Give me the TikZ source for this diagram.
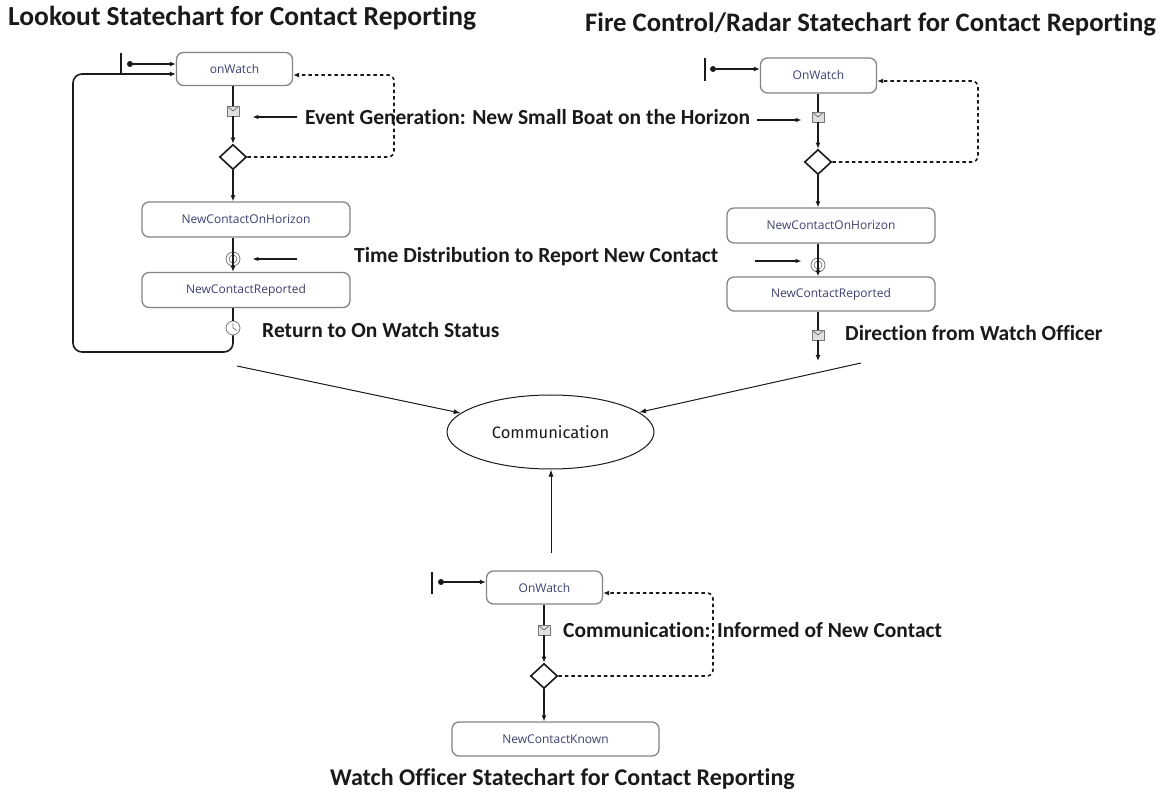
\documentclass[tikz,border=0pt]{standalone}
\usepackage{fontspec}
\setmainfont{Carlito}[Ligatures=NoCommon]
\newfontfamily\boxfont{Open Sans}
\newfontfamily\ellfont{Fira Sans}
\usetikzlibrary{arrows.meta,shapes.geometric,calc}

\definecolor{ink}{HTML}{1A1A1A}
\definecolor{boxline}{HTML}{858585}
\definecolor{boxtext}{HTML}{3C4070}
\definecolor{icon}{HTML}{777777}

\tikzset{
  state/.style={draw=boxline, line width=1.3pt, rounded corners=7pt, fill=white,
    font=\boxfont\fontsize{12}{14}\selectfont, text=boxtext, inner sep=0pt},
  small/.style={state, minimum width=116pt, minimum height=33pt},
  wide/.style={state, minimum width=208pt, minimum height=35pt},
  choice/.style={diamond, draw=ink, line width=1.6pt, fill=white, inner sep=0pt,
    minimum width=27pt, minimum height=25pt},
  mailicon/.style={rectangle, draw=icon, fill=gray!25, line width=0.7pt,
    minimum width=12pt, minimum height=10pt, inner sep=0pt,
    path picture={\draw[icon!80!black, line width=0.6pt]
      (path picture bounding box.north west) -- (path picture bounding box.center)
      -- (path picture bounding box.north east);}},
  timer/.style={circle, draw=icon, line width=0.8pt, minimum size=14pt, inner sep=0pt,
    path picture={\draw[icon, line width=0.7pt] (path picture bounding box.center) circle (4pt);}},
  clock/.style={circle, draw=icon, fill=white, line width=0.8pt, minimum size=14pt, inner sep=0pt,
    path picture={\draw[icon, line width=0.7pt]
      (path picture bounding box.center) -- ++(0pt,5pt)
      (path picture bounding box.center) -- ++(4pt,-2.5pt);}},
  conn/.style={draw=ink, line width=1.6pt, -{Latex[length=6pt,width=5pt]}},
  plain/.style={draw=ink, line width=1.6pt},
  loopback/.style={draw=ink, line width=1.6pt, dash pattern=on 3.5pt off 3pt,
    -{Latex[length=6pt,width=5pt]}},
  pointer/.style={draw=ink, line width=1.2pt, -{Latex[length=6pt,width=4.5pt]}},
  flow/.style={draw=ink, line width=1pt, -{Latex[length=7pt,width=5pt]}},
  initdot/.style={circle, fill=ink, minimum size=6pt, inner sep=0pt},
  note/.style={font=\bfseries\fontsize{21.5}{24}\selectfont, text=ink, anchor=west, inner sep=0pt},
  title/.style={font=\bfseries\fontsize{27.5}{30}\selectfont, text=ink, anchor=west, inner sep=0pt},
}

\begin{document}
\begin{tikzpicture}[x=1pt, y=-1pt]
\useasboundingbox (0,0) rectangle (1162,799);
\fill[white] (0,0) rectangle (1162,799);

% ---------- titles ----------
\node[title] (tLook) at (8,18) {Lookout Statechart for Contact Reporting};
\node[title, font=\bfseries\fontsize{26.7}{30}\selectfont] (tFire) at (585,24) {Fire Control/Radar Statechart for Contact Reporting};
\node[title, font=\bfseries\fontsize{24}{28}\selectfont] (tWatch) at (330,779) {Watch Officer Statechart for Contact Reporting};

% ---------- lookout ----------
\node[small] (owL) at (234.5,69) {onWatch};
\node[mailicon] (mailL) at (233,111) {};
\node[choice] (diaL) at (233,157) {};
\node[wide] (ncohL) at (246,219.5) {NewContactOnHorizon};
\node[wide] (ncrL) at (246,290) {NewContactReported};
\node[initdot] (dotL) at (130,64) {};
\node[timer] (timerL) at (233,259) {};
\node[clock] (clockL) at (233,328) {};
\coordinate (barLt) at (121,53);
\coordinate (barLb) at (121,75);
\coordinate (loopBR) at (233,352);
\coordinate (loopBL) at (73,352);
\coordinate (loopTL) at (73,74);
\coordinate (dashL) at (394,157);
\coordinate (dashLt) at (394,75);

\draw[line width=1.6pt, ink] (barLt) -- (barLb);
\draw[conn] (dotL) -- ([yshift=5pt]owL.west);
\draw[plain] (owL.south -| mailL) -- (mailL);
\draw[conn] (mailL) -- (diaL);
\draw[conn] (diaL) -- (diaL |- ncohL.north);
\draw[conn] (diaL |- ncohL.south) -- (diaL |- ncrL.north);
\draw[plain] (diaL |- ncrL.south) -- (clockL);
\draw[conn, rounded corners=9pt] (clockL.south) -- (loopBR) -- (loopBL)
  -- (loopTL) -- ([yshift=-5pt]owL.west);
\draw[loopback, rounded corners=6pt] (diaL.east) -- (dashL) -- (dashLt)
  -- ([yshift=-6pt]owL.east);

% ---------- fire control / radar ----------
\node[small, minimum height=35pt] (owF) at (818.5,75.5) {OnWatch};
\node[mailicon] (mailF) at (818,117) {};
\node[choice] (diaF) at (818,162) {};
\node[wide] (ncohF) at (831,225.5) {NewContactOnHorizon};
\node[wide, minimum height=34pt] (ncrF) at (831,294) {NewContactReported};
\node[initdot] (dotF) at (713,69) {};
\node[timer] (timerF) at (818,265) {};
\node[mailicon] (mail2F) at (818,335) {};
\coordinate (barFt) at (705,58);
\coordinate (barFb) at (705,81);
\coordinate (dashF) at (978,162);
\coordinate (dashFt) at (978,81);
\coordinate (outF) at (818,361);

\draw[line width=1.6pt, ink] (barFt) -- (barFb);
\draw[conn] (dotF) -- ([yshift=6.5pt]owF.west);
\draw[plain] (owF.south -| mailF) -- (mailF);
\draw[conn] (mailF) -- (diaF);
\draw[conn] (diaF) -- (diaF |- ncohF.north);
\draw[conn] (diaF |- ncohF.south) -- (diaF |- ncrF.north);
\draw[plain] (diaF |- ncrF.south) -- (mail2F);
\draw[conn] (mail2F) -- (outF);
\draw[loopback, rounded corners=6pt] (diaF.east) -- (dashF) -- (dashFt)
  -- ([yshift=-5.5pt]owF.east);

% ---------- watch officer ----------
\node[small] (owW) at (544.5,587.5) {OnWatch};
\node[mailicon] (mailW) at (544,630) {};
\node[choice] (diaW) at (544,676) {};
\node[wide, minimum width=207pt, minimum height=34pt] (nckW) at (555.5,739) {NewContactKnown};
\node[initdot] (dotW) at (441,582) {};
\coordinate (barWt) at (432,572);
\coordinate (barWb) at (432,594);
\coordinate (dashW) at (713,676);
\coordinate (dashWt) at (713,593);

\draw[line width=1.6pt, ink] (barWt) -- (barWb);
\draw[conn] (dotW) -- ([yshift=5.5pt]owW.west);
\draw[plain] (owW.south -| mailW) -- (mailW);
\draw[conn] (mailW) -- (diaW);
\draw[conn] (diaW) -- (diaW |- nckW.north);
\draw[loopback, rounded corners=6pt] (diaW.east) -- (dashW) -- (dashWt)
  -- ([yshift=-5.5pt]owW.east);

% ---------- communication hub ----------
\node[ellipse, draw=ink, line width=1pt, minimum width=207pt, minimum height=74pt,
  inner sep=0pt, font=\ellfont\fontsize{16.5}{18}\selectfont, text=ink] (comm) at (550.5,432) {Communication};
\coordinate (fromL) at (237,366);
\coordinate (fromF) at (861,363);
\coordinate (fromW) at (551,553);
\draw[flow] (fromL) -- (comm);
\draw[flow] (fromF) -- (comm);
\draw[flow] (fromW) -- (comm.south -| fromW);

% ---------- annotations ----------
\node[note] (evText) at (305,117) {Event Generation: New Small Boat on the Horizon};
\coordinate (evLs) at (297,117);
\coordinate (evRs) at (757,120);
\draw[pointer] (evLs) -- ([xshift=13pt]mailL.east |- evLs);
\draw[pointer] (evRs) -- ([xshift=-10pt]mailF.west |- evRs);

\node[note] (tdText) at (354,257) {Time Distribution to Report New Contact};
\coordinate (tdLs) at (297,259);
\coordinate (tdRs) at (755,261);
\draw[pointer] (tdLs) -- ([xshift=12pt]timerL.east |- tdLs);
\draw[pointer] (tdRs) -- ([xshift=-9pt]timerF.west |- tdRs);

\node[note] (retText) at (262,330) {Return to On Watch Status};
\node[note] (dirText) at (845,333) {Direction from Watch Officer};
\node[note] (infText) at (563,630) {Communication: Informed of New Contact};
\end{tikzpicture}
\end{document}
